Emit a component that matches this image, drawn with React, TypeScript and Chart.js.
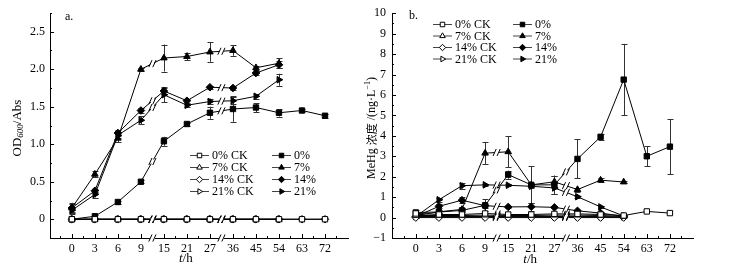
import React, { useEffect, useRef } from 'react';
import { Chart, registerables } from 'chart.js';

Chart.register(...registerables);

// ---------- data ----------
const timeLabels = ['0', '3', '6', '9', '15', '21', '27', '36', '45', '54', '63', '72'];
const seriesLabels = ['0% CK', '7% CK', '14% CK', '21% CK', '0%', '7%', '14%', '21%'];

const odTicks = [0, 0.5, 1, 1.5, 2, 2.5];
const mehgTicks = [-1, 0, 1, 2, 3, 4, 5, 6, 7, 8, 9, 10];

// OD600 (panel a)
const od0CK = [0, 0, 0, 0, 0, 0, 0, 0, 0, 0, 0, 0];
const od7CK = [0, 0, 0, 0, 0, 0, 0, 0, 0, 0];
const od14CK = [0, 0, 0, 0, 0, 0, 0, 0, 0, 0, 0, 0];
const od21CK = [0, 0, 0, 0, 0, 0, 0, 0, 0, 0];
const od0 = [0.0, 0.04, 0.23, 0.5, 1.04, 1.27, 1.42, 1.47, 1.49, 1.42, 1.45, 1.38];
const od7 = [0.15, 0.6, 1.08, 2.0, 2.15, 2.17, 2.23, 2.25, 2.02, 2.08];
const od14 = [0.15, 0.38, 1.15, 1.45, 1.71, 1.58, 1.76, 1.75, 1.95, 2.06];
const od21 = [0.12, 0.33, 1.12, 1.32, 1.66, 1.52, 1.57, 1.58, 1.64, 1.86];
const od0Err = [0.01, 0.02, 0.02, 0.02, 0.06, 0.02, 0.08, 0.17, 0.06, 0.05, 0.02, 0.03];
const od7Err = [0.07, 0.04, 0.05, 0.02, 0.18, 0.05, 0.13, 0.07, 0.03, 0.07];
const od14Err = [0.05, 0.03, 0.04, 0.03, 0.04, 0.03, 0.02, 0.03, 0.02, 0.05];
const od21Err = [0.05, 0.04, 0.04, 0.05, 0.1, 0.02, 0.04, 0.05, 0.03, 0.08];

// MeHg (panel b)
const mh0CK = [0.2, 0.15, 0.15, 0.2, 0.15, 0.15, 0.18, 0.18, 0.15, 0.1, 0.3, 0.22];
const mh7CK = [0.1, 0.1, 0.1, 0.12, 0.1, 0.1, 0.12, 0.12, 0.1, 0.05];
const mh14CK = [0, 0, 0, 0, 0, 0, 0, 0, 0, 0];
const mh21CK = [0.05, 0.05, 0.05, 0.05, 0.05, 0.05, 0.05, 0.05, 0.05, 0.03];
const mh0 = [0.25, 0.27, 0.35, 0.6, 2.1, 1.6, 1.6, 2.87, 3.95, 6.75, 3.0, 3.47];
const mh7 = [0.1, 0.28, 0.4, 3.15, 3.22, 1.6, 1.75, 1.37, 1.83, 1.74];
const mh14 = [0.05, 0.55, 0.85, 0.58, 0.52, 0.53, 0.5, 0.33, 0.22, 0.06];
const mh21 = [0.05, 0.87, 1.56, 1.6, 1.58, 1.53, 1.45, 1.02, 0.52, 0.08];
const mh0Err = [0.1, 0.1, 0.1, 0.3, 0.2, 0.9, 0.45, 0.95, 0.15, 1.75, 0.5, 1.35];
const mh7Err = [0.05, 0.05, 0.05, 0.55, 0.75, 0.1, 0.3, 0.1, 0.1, 0.05];
const mh14Err = [0.05, 0.1, 0.15, 0.1, 0.05, 0.2, 0.05, 0.05, 0.05, 0.05];
const mh21Err = [0.05, 0.1, 0.15, 0.05, 0.05, 0.1, 0.3, 0.05, 0.05, 0.05];

// ---------- styles ----------
const SERIF = "'Liberation Serif', 'Times New Roman', 'DejaVu Serif', serif";
const CJK = "'Noto Sans CJK SC', 'Noto Sans CJK JP', sans-serif";
const markerStyles = [
  { shape: 'rect', rot: 0 },
  { shape: 'triangle', rot: 0 },
  { shape: 'rectRot', rot: 0 },
  { shape: 'triangle', rot: 90 },
];
const BREAKS = [3.5, 6.5];

function drawMarker(ctx: CanvasRenderingContext2D, shape: string, rot: number, x: number, y: number, r: number, filled: boolean) {
  ctx.beginPath();
  if (shape === 'rect') {
    const s = r * Math.SQRT1_2;
    ctx.rect(x - s, y - s, 2 * s, 2 * s);
  } else if (shape === 'rectRot') {
    ctx.moveTo(x, y - r);
    ctx.lineTo(x + r, y);
    ctx.lineTo(x, y + r);
    ctx.lineTo(x - r, y);
    ctx.closePath();
  } else {
    const a0 = (rot * Math.PI) / 180;
    for (let k = 0; k < 3; k++) {
      const a = a0 + (k * 2 * Math.PI) / 3;
      const px = x + Math.sin(a) * r;
      const py = y - Math.cos(a) * r;
      if (k === 0) ctx.moveTo(px, py);
      else ctx.lineTo(px, py);
    }
    ctx.closePath();
  }
  ctx.fillStyle = filled ? '#000' : '#fff';
  ctx.fill();
  ctx.strokeStyle = '#000';
  ctx.lineWidth = 1;
  ctx.stroke();
}

type Seg = { t: string; font: string; dy?: number };

function drawRich(ctx: CanvasRenderingContext2D, segs: Seg[], cx: number, cy: number, rotate: boolean) {
  ctx.save();
  ctx.translate(cx, cy);
  if (rotate) ctx.rotate(-Math.PI / 2);
  let w = 0;
  segs.forEach((s) => {
    ctx.font = s.font;
    w += ctx.measureText(s.t).width;
  });
  let x = -w / 2;
  ctx.textBaseline = 'middle';
  ctx.textAlign = 'left';
  ctx.fillStyle = '#000';
  segs.forEach((s) => {
    ctx.font = s.font;
    ctx.fillText(s.t, x, s.dy || 0);
    x += ctx.measureText(s.t).width;
  });
  ctx.restore();
}

function drawSlashes(ctx: CanvasRenderingContext2D, x: number, y: number) {
  ctx.strokeStyle = '#000';
  ctx.lineWidth = 1;
  ctx.beginPath();
  for (const dx of [-2, 2]) {
    ctx.moveTo(x + dx - 1.6, y + 3.5);
    ctx.lineTo(x + dx + 1.6, y - 3.5);
  }
  ctx.stroke();
}

const decorPlugin = {
  id: 'decor',
  beforeDatasetsDraw(chart: any, _args: any, opts: any) {
    const ctx: CanvasRenderingContext2D = chart.ctx;
    const xs = chart.scales.x;
    const ys = chart.scales.y;
    ctx.save();
    ctx.strokeStyle = '#333';
    ctx.lineWidth = 1;
    chart.data.datasets.forEach((ds: any) => {
      if (!ds.errors) return;
      ds.data.forEach((p: any, i: number) => {
        const e = ds.errors[i];
        if (!e) return;
        const x = Math.round(xs.getPixelForValue(p.x)) + 0.5;
        const y1 = ys.getPixelForValue(p.y - e);
        const y2 = ys.getPixelForValue(p.y + e);
        ctx.beginPath();
        ctx.moveTo(x, y1);
        ctx.lineTo(x, y2);
        ctx.moveTo(x - 3, Math.round(y1) + 0.5);
        ctx.lineTo(x + 3, Math.round(y1) + 0.5);
        ctx.moveTo(x - 3, Math.round(y2) + 0.5);
        ctx.lineTo(x + 3, Math.round(y2) + 0.5);
        ctx.stroke();
      });
    });
    ctx.restore();
  },
  afterDatasetsDraw(chart: any, _args: any, opts: any) {
    const ctx: CanvasRenderingContext2D = chart.ctx;
    const xs = chart.scales.x;
    const ys = chart.scales.y;
    const area = chart.chartArea;
    ctx.save();
    // break marks on series lines
    chart.data.datasets.forEach((ds: any) => {
      BREAKS.forEach((b) => {
        const i0 = Math.floor(b);
        const a = ds.data[i0];
        const c = ds.data[i0 + 1];
        if (!a || !c) return;
        const x1 = xs.getPixelForValue(a.x), y1 = ys.getPixelForValue(a.y);
        const x2 = xs.getPixelForValue(c.x), y2 = ys.getPixelForValue(c.y);
        const mx = (x1 + x2) / 2, my = (y1 + y2) / 2;
        const len = Math.hypot(x2 - x1, y2 - y1);
        const ux = (x2 - x1) / len, uy = (y2 - y1) / len;
        ctx.strokeStyle = '#fff';
        ctx.lineWidth = 3;
        ctx.beginPath();
        ctx.moveTo(mx - ux * 2.2, my - uy * 2.2);
        ctx.lineTo(mx + ux * 2.2, my + uy * 2.2);
        ctx.stroke();
        drawSlashes(ctx, mx, my);
      });
    });
    ctx.restore();
  },
  afterDraw(chart: any, _args: any, opts: any) {
    const ctx: CanvasRenderingContext2D = chart.ctx;
    const xs = chart.scales.x;
    const ys = chart.scales.y;
    const area = chart.chartArea;
    ctx.save();
    ctx.strokeStyle = '#000';
    ctx.lineWidth = 1;
    // x ticks (inward)
    ctx.beginPath();
    timeLabels.forEach((_, i) => {
      const x = Math.round(xs.getPixelForValue(i)) + 0.5;
      ctx.moveTo(x, area.bottom);
      ctx.lineTo(x, area.bottom - 4);
    });
    for (let v = -0.5; v < xs.max; v += 1) {
      if (BREAKS.includes(v) || v < xs.min) continue;
      const x = Math.round(xs.getPixelForValue(v)) + 0.5;
      ctx.moveTo(x, area.bottom);
      ctx.lineTo(x, area.bottom - 2);
    }
    // y ticks (inward)
    opts.yMajor.forEach((v: number) => {
      const y = Math.round(ys.getPixelForValue(v)) + 0.5;
      ctx.moveTo(area.left, y);
      ctx.lineTo(area.left + 4, y);
    });
    for (let v = ys.min + opts.yMinorOffset; v <= ys.max + 1e-9; v += opts.yMinorStep) {
      const y = Math.round(ys.getPixelForValue(v)) + 0.5;
      ctx.moveTo(area.left, y);
      ctx.lineTo(area.left + 2, y);
    }
    ctx.stroke();
    // axis breaks
    BREAKS.forEach((b) => {
      const x = xs.getPixelForValue(b);
      ctx.fillStyle = '#fff';
      ctx.fillRect(x - 2.5, area.bottom - 3, 5, 6);
      drawSlashes(ctx, x, area.bottom);
    });
    // titles
    drawRich(ctx, opts.yTitle, opts.yTitleX, opts.yTitleY, true);
    drawRich(
      ctx,
      [
        { t: 't', font: `italic 13px ${SERIF}` },
        { t: '/h', font: `13px ${SERIF}` },
      ],
      xs.getPixelForValue(4.95),
      opts.xTitleY,
      false
    );
    // panel label
    ctx.font = `12px ${SERIF}`;
    ctx.fillStyle = '#000';
    ctx.textAlign = 'left';
    ctx.textBaseline = 'middle';
    ctx.fillText(opts.panel, opts.panelX, opts.panelY);
    // legend
    const lg = opts.legend;
    chart.data.datasets.forEach((ds: any, k: number) => {
      const col = k < 4 ? 0 : 1;
      const row = k % 4;
      const x0 = lg.cols[col];
      const y = lg.rows[row];
      ctx.strokeStyle = '#444';
      ctx.lineWidth = 1;
      ctx.beginPath();
      ctx.moveTo(x0, y + 0.5);
      ctx.lineTo(x0 + lg.len, y + 0.5);
      ctx.stroke();
      const st = markerStyles[k % 4];
      drawMarker(ctx, st.shape, st.rot, x0 + lg.len / 2, y + 0.5, 3.2, k >= 4);
      ctx.font = `12px ${SERIF}`;
      ctx.fillStyle = '#000';
      ctx.textAlign = 'left';
      ctx.textBaseline = 'middle';
      ctx.fillText(ds.label, x0 + lg.len + 3, y + 1);
    });
    ctx.restore();
  },
};

function buildConfig(p: any): any {
  const datasets = seriesLabels.map((label, k) => {
    const st = markerStyles[k % 4];
    return {
      label,
      data: p.series[k].map((v: number, i: number) => ({ x: i, y: v })),
      errors: p.errors[k],
      borderColor: '#000',
      borderWidth: 1,
      pointStyle: st.shape,
      pointRotation: st.rot,
      pointRadius: 3.8,
      pointHoverRadius: 3.8,
      pointBackgroundColor: k < 4 ? '#fff' : '#000',
      pointBorderColor: '#000',
      pointBorderWidth: 1,
      tension: 0,
      fill: false,
    };
  });
  return {
    type: 'line',
    data: { datasets },
    plugins: [decorPlugin],
    options: {
      responsive: false,
      animation: false,
      events: [],
      layout: { padding: { left: 0, right: p.padRight, top: p.padTop, bottom: 0 } },
      plugins: {
        legend: { display: false },
        tooltip: { enabled: false },
        decor: p.decor,
      },
      scales: {
        x: {
          type: 'linear',
          min: p.xMin,
          max: p.xMax,
          grid: { display: false, drawTicks: false },
          border: { display: true, color: '#000', width: 1 },
          afterBuildTicks: (s: any) => {
            s.ticks = timeLabels.map((_, i) => ({ value: i }));
          },
          ticks: {
            callback: (v: number) => timeLabels[v] ?? '',
            font: { family: SERIF, size: 12 },
            color: '#000',
            padding: 4,
            maxRotation: 0,
            autoSkip: false,
          },
          afterFit: (s: any) => {
            s.height = 37;
          },
        },
        y: {
          type: 'linear',
          min: p.yMin,
          max: p.yMax,
          grid: { display: false, drawTicks: false },
          border: { display: true, color: '#000', width: 1 },
          afterBuildTicks: (s: any) => {
            s.ticks = p.yTicks.map((v: number) => ({ value: v }));
          },
          ticks: {
            callback: p.yFmt,
            font: { family: SERIF, size: 12 },
            color: '#000',
            padding: p.yPad,
            autoSkip: false,
          },
          afterFit: (s: any) => {
            s.width = p.yWidth;
          },
        },
      },
    },
  };
}

export default function App() {
  const leftRef = useRef<HTMLCanvasElement>(null);
  const rightRef = useRef<HTMLCanvasElement>(null);

  useEffect(() => {
    const left = new Chart(
      leftRef.current!,
      buildConfig({
        series: [od0CK, od7CK, od14CK, od21CK, od0, od7, od14, od21],
        errors: [null, null, null, null, od0Err, od7Err, od14Err, od21Err],
        xMin: -0.95,
        xMax: 12,
        yMin: -0.25,
        yMax: 2.75,
        yTicks: odTicks,
        yFmt: (v: number) => (v === 0 ? '0' : v.toFixed(1)),
        yWidth: 50,
        yPad: 5,
        padRight: 12,
        padTop: 13,
        decor: {
          yMajor: odTicks,
          yMinorStep: 0.5,
          yMinorOffset: 0,
          yTitle: [
            { t: 'OD', font: `13px ${SERIF}` },
            { t: '600', font: `italic 9px ${SERIF}`, dy: 3 },
            { t: '/Abs', font: `13px ${SERIF}` },
          ],
          yTitleX: 18,
          yTitleY: 128,
          xTitleY: 259,
          panel: 'a.',
          panelX: 65,
          panelY: 17,
          legend: { cols: [190, 272], rows: [155, 167, 179, 191], len: 19 },
        },
      })
    );
    const right = new Chart(
      rightRef.current!,
      buildConfig({
        series: [mh0CK, mh7CK, mh14CK, mh21CK, mh0, mh7, mh14, mh21],
        errors: [null, null, null, null, mh0Err, mh7Err, mh14Err, mh21Err],
        xMin: -1.03,
        xMax: 12,
        yMin: -1,
        yMax: 10,
        yTicks: mehgTicks,
        yFmt: (v: number) => (v < 0 ? '\u2212' + Math.abs(v) : String(v)),
        yWidth: 32,
        yPad: 6,
        padRight: 37,
        padTop: 12,
        decor: {
          yMajor: mehgTicks,
          yMinorStep: 1,
          yMinorOffset: 0.5,
          yTitle: [
            { t: 'MeHg ', font: `12px ${SERIF}` },
            { t: '浓度', font: `11px ${CJK}` },
            { t: ' /(ng·L', font: `12px ${SERIF}` },
            { t: '\u22121', font: `8px ${SERIF}`, dy: -4 },
            { t: ')', font: `12px ${SERIF}` },
          ],
          yTitleX: 12,
          yTitleY: 128,
          xTitleY: 260,
          panel: 'b.',
          panelX: 49,
          panelY: 16,
          legend: { cols: [73, 153], rows: [24, 35.5, 47, 58.5], len: 19 },
        },
      })
    );
    return () => {
      left.destroy();
      right.destroy();
    };
  }, []);

  return (
    <div style={{ position: 'absolute', left: 0, top: 0, width: 730, height: 275, background: '#fff' }}>
      <canvas ref={leftRef} width={360} height={275} style={{ position: 'absolute', left: 0, top: 0 }} />
      <canvas ref={rightRef} width={370} height={275} style={{ position: 'absolute', left: 360, top: 0 }} />
    </div>
  );
}
